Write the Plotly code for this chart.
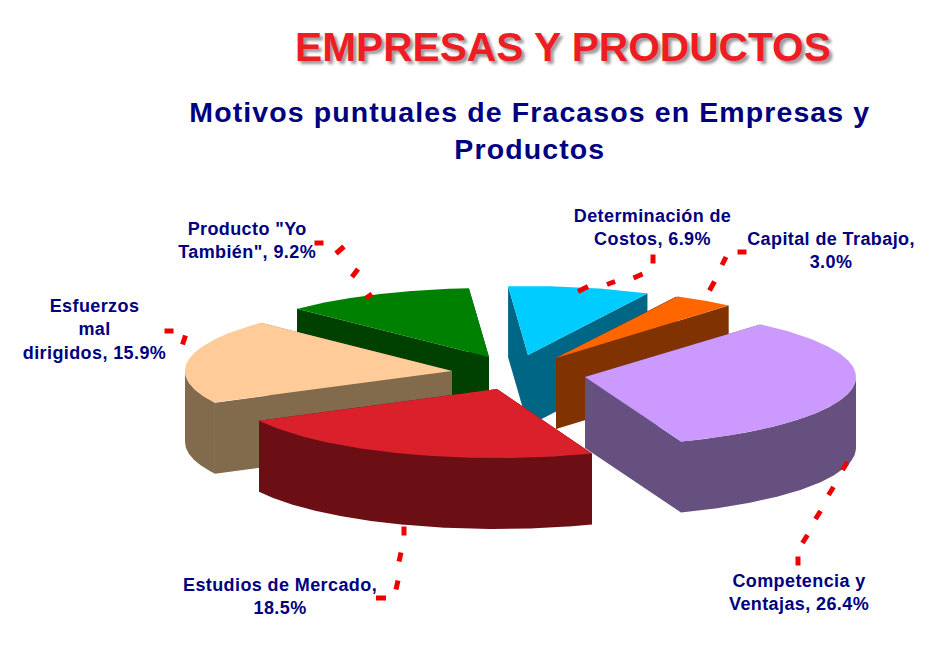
import numpy as np
import plotly.graph_objects as go

# chart data, clockwise from the top right
categories = ["Competencia y<br>Ventajas", "Estudios de Mercado,<br>", "Esfuerzos<br>mal<br>dirigidos",
              'Producto "Yo<br>También"', "Determinación de<br>Costos", "Capital de Trabajo,<br>"]
values = [26.4, 18.5, 15.9, 9.2, 6.9, 3.0]

top_colors = ["#cc99ff", "#da202a", "#ffcc99", "#008000", "#00ccff", "#ff6600"]
side_colors = ["#65507f", "#6b0f14", "#826a4c", "#004000", "#006685", "#803300"]

# apex of each exploded slice on the page, px
apex_x = [585, 497, 452, 489, 528, 556]
apex_y = [377, 389, 371, 357, 355, 358]
# perspective makes the far slices a little narrower
radius_x = [271, 268, 267, 268, 265, 267]
label_x = [799, 280, 94, 247, 652, 831]
label_y = [592, 596, 329, 240, 227, 250]
# back to front
draw_order = [3, 2, 4, 5, 0, 1]

RY = 69
DEPTH = 71
START_ANGLE = 49.7

# leader dashes: centre x, centre y, half extent x, half extent y
leader_dashes = [
    (798, 561, 0, 4.5), (805, 539, 2.5, 4), (818, 515, 2.5, 4), (831, 491, 2.5, 4), (845, 466, 2.5, 4),
    (381, 598, 5, 0), (397, 585, 1, 4.5), (400, 557, 1, 4.5), (404, 531, 0, 4.5),
    (169, 331, 4.5, 0), (184, 340, 1.5, 4.5),
    (319, 243, 4.5, 0), (340, 250, 4, 3.5), (355, 273, 3, 4), (369, 296, 3, 2),
    (653, 259, 0, 4.5), (638, 276, 4.5, 2), (611, 283, 4, 1.5), (583, 289, 5, 2.5),
    (742, 252, 4.5, 0), (724, 261, 2, 4), (712, 286, 2.5, 4.5),
]

# plotly's text has no letter spacing of its own, the reference has it
spacing_js = """
document.querySelectorAll('.annotation-text').forEach(function (t) {
    var size = parseFloat(t.style.fontSize);
    t.style.letterSpacing = size > 35 ? '0' : (size > 25 ? '1.1px' : '0.4px');
});
"""


def wedge_arc(ax, ay, rx, a0, a1):
    t = np.radians(np.linspace(a0, a1, 240))
    return ax + rx * np.cos(t), ay - RY * np.sin(t), np.sin(t)


fig = go.Figure()

total = sum(values)
angles = [START_ANGLE]
for v in values:
    angles.append(angles[-1] - v / total * 360)

for i in draw_order:
    ax, ay = apex_x[i], apex_y[i]
    xs, ys, sins = wedge_arc(ax, ay, radius_x[i], angles[i], angles[i + 1])
    side_faces = [
        ([ax, xs[0], xs[0], ax, ax], [ay, ys[0], ys[0] + DEPTH, ay + DEPTH, ay]),
        ([ax, xs[-1], xs[-1], ax, ax], [ay, ys[-1], ys[-1] + DEPTH, ay + DEPTH, ay]),
    ]
    # only the front half of the rim shows
    front = sins <= 0
    if front.any():
        fx, fy = xs[front], ys[front]
        side_faces.append((list(fx) + list(fx[::-1]) + [fx[0]], list(fy) + list(fy[::-1] + DEPTH) + [fy[0]]))
    for fx, fy in side_faces:
        fig.add_trace(go.Scatter(x=fx, y=fy, mode="lines", fill="toself", fillcolor=side_colors[i],
                                 line=dict(width=0), hoverinfo="skip", showlegend=False))
    fig.add_trace(go.Scatter(x=[ax] + list(xs) + [ax], y=[ay] + list(ys) + [ay], mode="lines", fill="toself",
                             fillcolor=top_colors[i], line=dict(width=0), showlegend=False,
                             hoverinfo="text", text=f"{values[i]}%"))

dash_x = []
dash_y = []
for cx, cy, hx, hy in leader_dashes:
    dash_x += [cx - hx, cx + hx, None]
    dash_y += [cy + hy, cy - hy, None]
fig.add_trace(go.Scatter(x=dash_x, y=dash_y, mode="lines", hoverinfo="skip", showlegend=False,
                         line=dict(color="#ee0000", width=5)))

for i, name in enumerate(categories):
    if name.endswith("<br>"):
        text = f"{name}{values[i]}%"
    else:
        text = f"{name}, {values[i]}%"
    fig.add_annotation(x=label_x[i], y=label_y[i], text=text, showarrow=False, align="center",
                       font=dict(family="Liberation Sans", size=18, color="#000080", weight="bold"))

fig.add_annotation(x=563, y=47, text="EMPRESAS Y PRODUCTOS", showarrow=False,
                   font=dict(family="Liberation Sans", size=40.7, color="#ee1c25", weight="bold",
                             shadow="3px 3px 3px #999999"))
fig.add_annotation(x=530, y=130, text="Motivos puntuales de Fracasos en Empresas y<br>Productos", showarrow=False,
                   align="center",
                   font=dict(family="Liberation Sans", size=28.5, color="#000080", weight="bold"))

# the page has an 8px body margin, so the axes start at 8 and stay in page pixels
fig.update_layout(width=943, height=640, margin=dict(l=0, r=0, t=0, b=0), autosize=False,
                  paper_bgcolor="white", plot_bgcolor="white",
                  xaxis=dict(range=[8, 951], visible=False, fixedrange=True),
                  yaxis=dict(range=[648, 8], visible=False, fixedrange=True))

fig.write_html("out.html", post_script=spacing_js)
